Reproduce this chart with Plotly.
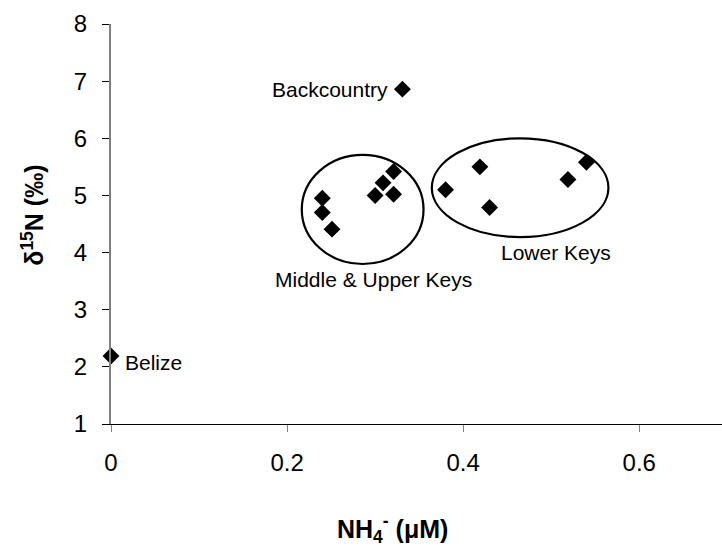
import plotly.graph_objects as go

# Data
nh4 = [0.0, 0.331, 0.240, 0.240, 0.251, 0.300, 0.309, 0.321, 0.321, 0.380, 0.419, 0.430, 0.519, 0.540]
d15n = [2.19, 6.86, 4.95, 4.70, 4.41, 5.00, 5.22, 5.42, 5.02, 5.10, 5.50, 4.79, 5.28, 5.58]

x_ticks = [0, 0.2, 0.4, 0.6]
x_tick_labels = ["0", "0.2", "0.4", "0.6"]
y_ticks = [1, 2, 3, 4, 5, 6, 7, 8]

# group outlines (data coords: x0, x1, y0, y1)
middle_ellipse = (0.2167, 0.355, 3.80, 5.71)
lower_ellipse = (0.3644, 0.565, 4.27, 6.00)

font = "Liberation Sans, Arial, sans-serif"

fig = go.Figure()
fig.add_trace(go.Scatter(
    x=nh4, y=d15n, mode="markers",
    marker=dict(symbol="diamond", size=13, color="black", line=dict(width=0)),
    cliponaxis=False, showlegend=False,
))

for (x0, x1, y0, y1) in (middle_ellipse, lower_ellipse):
    fig.add_shape(type="circle", xref="x", yref="y", x0=x0, x1=x1, y0=y0, y1=y1,
                  line=dict(color="black", width=2.2))

ann_font = dict(family=font, size=21, color="black")
fig.add_annotation(x=0.331, y=6.86, text="Backcountry", showarrow=False,
                   xanchor="right", xshift=-12, font=ann_font)
fig.add_annotation(x=0.0, y=2.19, text="Belize", showarrow=False,
                   xanchor="left", xshift=12, yshift=-6, font=ann_font)
fig.add_annotation(x=0.298, y=3.537, text="Middle & Upper Keys", showarrow=False,
                   font=ann_font)
fig.add_annotation(x=0.506, y=4.01, text="Lower Keys", showarrow=False,
                   font=ann_font)

# axis titles
fig.add_annotation(xref="paper", yref="paper", x=-0.128, y=0.5225,
                   xanchor="center", yanchor="middle",
                   text="<b>δ<sup>15</sup>N (‰)</b>", textangle=-90, showarrow=False,
                   font=dict(family=font, size=25, color="black"))
fig.add_annotation(xref="paper", yref="paper", x=0.46, y=-0.2625,
                   xanchor="center", yanchor="middle",
                   text="<b>NH<sub>4</sub><sup>-</sup> (μM)</b>", showarrow=False,
                   font=dict(family=font, size=25, color="black"))

fig.update_xaxes(range=[0, 0.694], tickvals=x_ticks, ticktext=x_tick_labels,
                 showgrid=False, zeroline=False, showline=True, linecolor="black",
                 linewidth=1, ticks="outside", ticklen=7, tickcolor="#808080",
                 ticklabelstandoff=10,
                 tickfont=dict(family=font, size=24, color="black"))
fig.update_yaxes(range=[1, 8], tickvals=y_ticks,
                 showgrid=False, zeroline=False, showline=True, linecolor="#808080",
                 linewidth=2, ticks="outside", ticklen=7, tickcolor="black",
                 ticklabelstandoff=10,
                 tickfont=dict(family=font, size=24, color="black"))

fig.update_layout(width=722, height=550, margin=dict(l=111, r=0, t=24, b=126),
                  plot_bgcolor="white", paper_bgcolor="white")

fig.write_html("out.html")
